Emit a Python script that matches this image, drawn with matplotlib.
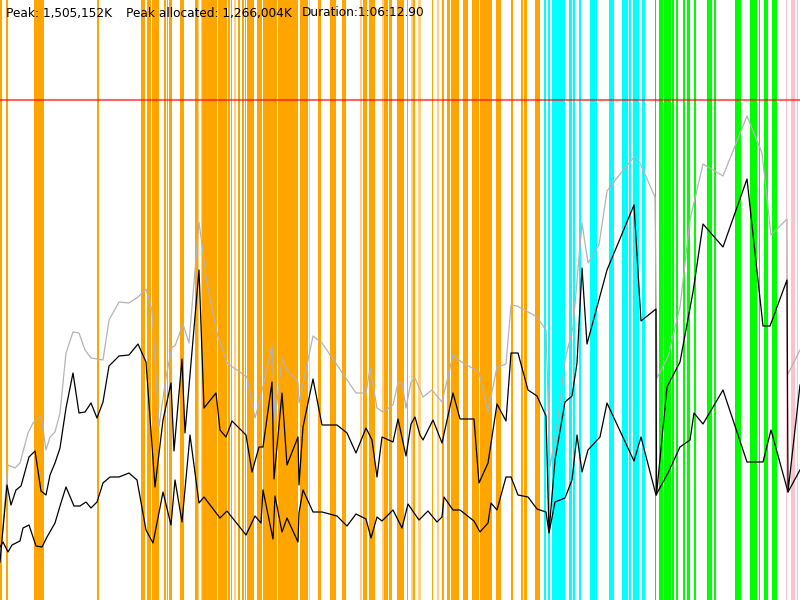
"""Memory / GC timeline recreated with matplotlib."""

import matplotlib
matplotlib.use("Agg")
import matplotlib.pyplot as plt

# time axis is in screen-width units (0..800), memory in height units (0..600)
PEAK_LEVEL = 500
HEADER = ["Peak: 1,505,152K", "Peak allocated: 1,266,004K", "Duration:1:06:12.90"]
HEADER_X = [6, 126, 302]

# GC event spans (start, end)
minor_gc = [
    (0, 1.7), (6, 7.7), (34, 44), (97, 99), (141, 145), (147, 151), (152, 157),
    (157, 159), (164, 166), (167, 168), (169, 172), (180, 184), (195, 198),
    (202, 217), (218, 227), (228, 230), (231, 232), (238, 240), (242, 244),
    (245, 246), (247, 254), (257, 262), (263, 277), (278, 298), (300, 308),
    (318, 321), (330, 336), (342, 346), (363, 367), (369, 375), (384, 388),
    (389, 392), (397, 404), (407, 408), (413, 415), (432, 433), (442, 444),
    (447, 450), (451, 459), (463, 468), (472, 479), (480, 492), (496, 501),
    (511, 513), (521, 523), (524, 527), (535, 540),
]
minor_gc_light = [
    (198, 199), (201, 202), (234, 236), (309, 310), (360, 362), (382, 384),
    (411, 413), (418, 421), (437, 439),
]
cyan_gc = [
    (544, 546), (548, 550), (552, 565), (569, 572), (573, 575), (579, 581),
    (590, 597), (609, 614), (622, 628), (629, 631), (633, 639), (642, 645),
]
green_gc = [
    (655, 656), (659, 663), (664, 666), (666, 671), (672, 674), (676, 678),
    (683, 685), (687, 690), (694, 696), (707, 712), (714, 716), (735, 741),
    (750, 753), (753, 757), (759, 760), (764, 768), (772, 777),
]
pink_gc = [(786, 787), (791, 795), (797, 798)]

# committed heap (grey)
heap_t = [0, 8, 15, 20, 28, 33, 41, 46, 50, 55, 60, 66, 73, 79, 85, 91, 97, 103,
          109, 119, 129, 138, 146, 152, 159, 166, 172, 175, 183, 189, 199, 207,
          217, 227, 237, 247, 255, 260, 272, 275, 282, 287, 298, 299, 313, 322,
          356, 366, 370, 377, 383, 393, 398, 402, 406, 411, 415, 423, 432, 442,
          453, 460, 479, 488, 497, 506, 511, 517, 530, 537, 546, 550, 558, 565,
          573, 582, 588, 599, 607, 617, 634, 640, 655, 657, 668, 680, 690, 703,
          723, 747, 762, 771, 787, 787.5, 800]
heap_v = [40, 135, 132, 137, 167, 177, 185, 150, 163, 168, 187, 247, 268, 267,
          250, 242, 241, 240, 280, 298, 297, 303, 311, 290, 173, 223, 253, 254,
          276, 257, 378, 317, 267, 237, 230, 223, 182, 200, 255, 180, 242, 230,
          218, 197, 264, 257, 207, 207, 232, 192, 188, 195, 217, 217, 192, 218,
          222, 203, 210, 198, 245, 239, 228, 188, 233, 236, 295, 294, 287, 283,
          270, 133, 182, 240, 273, 377, 337, 355, 409, 422, 443, 437, 403, 222,
          243, 293, 380, 436, 424, 484, 447, 365, 381, 225, 250]

# used after-peak (upper black)
used_t = [0, 7, 11, 16, 21, 29, 35, 41, 46, 50, 55, 60, 66, 73, 79, 85, 91, 97,
          103, 109, 119, 129, 138, 146, 155, 163, 171, 174, 182, 185, 199, 204,
          216, 220, 226, 232, 246, 252, 259, 263, 272, 274, 282, 287, 298, 299,
          303, 313, 322, 337, 347, 356, 366, 372, 377, 382, 393, 398, 406, 411,
          415, 420, 423, 433, 442, 453, 460, 474, 479, 488, 497, 506, 511, 518,
          528, 537, 546, 549, 555, 565, 572, 577, 582, 587, 607, 634, 641, 656,
          656.5, 667, 680, 693, 703, 723, 747, 763, 770, 787, 788, 800]
used_v = [38, 115, 95, 110, 114, 143, 149, 109, 105, 125, 137, 152, 192, 227,
          187, 188, 197, 182, 198, 234, 244, 245, 256, 238, 113, 180, 217, 149,
          241, 167, 330, 192, 207, 170, 163, 179, 165, 128, 153, 153, 218, 121,
          207, 135, 163, 115, 173, 221, 175, 175, 167, 147, 172, 160, 123, 163,
          158, 181, 144, 176, 183, 165, 160, 180, 157, 207, 181, 181, 117, 137,
          196, 179, 247, 247, 210, 204, 184, 68, 140, 198, 204, 237, 332, 256,
          330, 395, 279, 291, 105, 213, 238, 308, 376, 353, 421, 274, 274, 320,
          108, 215]

# used before-peak (lower black)
live_t = [0, 3, 8, 12, 20, 23, 29, 36, 42, 47, 55, 60, 66, 74, 80, 86, 91, 97,
          103, 110, 119, 129, 137, 146, 153, 157, 163, 171, 175, 182, 190, 199,
          204, 220, 227, 246, 255, 261, 263, 273, 275, 282, 287, 298, 299, 303,
          313, 322, 337, 347, 356, 366, 371, 377, 382, 393, 402, 408, 419, 428,
          437, 442, 444, 453, 460, 474, 480, 488, 491, 497, 506, 511, 518, 528,
          537, 546, 549, 555, 565, 572, 577, 582, 588, 600, 607, 634, 641, 656,
          668, 680, 690, 694, 703, 723, 747, 763, 771, 788, 800]
live_v = [53, 58, 48, 55, 59, 72, 75, 54, 53, 63, 77, 94, 113, 94, 94, 98, 92,
          98, 117, 123, 123, 127, 120, 70, 57, 77, 108, 75, 120, 78, 165, 97, 103,
          82, 89, 65, 84, 77, 110, 61, 104, 68, 82, 58, 87, 110, 88, 88, 84, 74,
          86, 81, 62, 83, 79, 90, 72, 96, 80, 89, 78, 83, 103, 90, 90, 79, 68, 77,
          97, 90, 123, 123, 105, 103, 91, 88, 67, 98, 102, 120, 165, 128, 150, 163,
          197, 139, 163, 105, 127, 153, 160, 187, 176, 210, 138, 138, 170, 108, 130]


def main():
    fig = plt.figure(figsize=(8, 6), dpi=100)
    ax = fig.add_axes([0, 0, 1, 1])
    ax.set_xlim(0, 800)
    ax.set_ylim(0, 600)
    ax.axis("off")

    for spans, color, alpha in [
        (minor_gc, "#FFA500", 1.0),
        (minor_gc_light, "#FFA500", 0.5),
        (cyan_gc, "#00FFFF", 1.0),
        (green_gc, "#00FF00", 1.0),
        (pink_gc, "#FFC0CB", 1.0),
    ]:
        for x0, x1 in spans:
            ax.axvspan(x0, x1, color=color, alpha=alpha, lw=0)

    ax.axhline(PEAK_LEVEL, color="#FF0000", alpha=0.6, lw=1.5)

    ax.plot(heap_t, heap_v, color="#B4B4B4", lw=0.9)
    ax.plot(used_t, used_v, color="black", lw=0.9)
    ax.plot(live_t, live_v, color="black", lw=0.9)

    for x, label in zip(HEADER_X, HEADER):
        ax.text(x, 587, label, fontsize=8.7, ha="left", va="center", color="black")

    fig.savefig("out.png", dpi=100)
    plt.close(fig)


if __name__ == "__main__":
    main()
